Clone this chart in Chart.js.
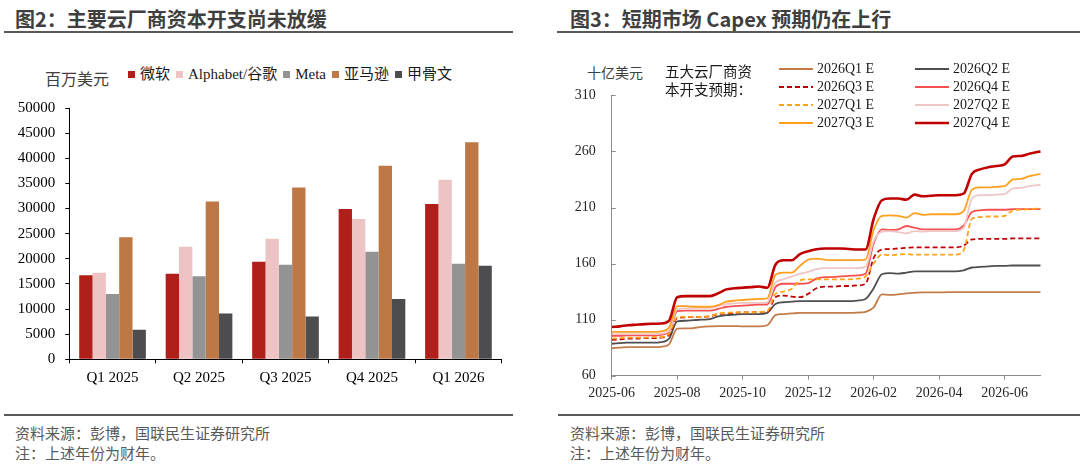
<!DOCTYPE html>
<html lang="zh">
<head>
<meta charset="UTF-8">
<title>云厂商资本开支</title>
<script src="https://cdn.jsdelivr.net/npm/chart.js"></script>
<style>
    body { margin: 0; background: #fff; font-family: "Noto Sans CJK SC", sans-serif; }
    #page { position: relative; width: 1080px; height: 471px; overflow: hidden; }
    .title { position: absolute; top: 6px; font-size: 20px; font-weight: bold; color: #3f3f3f; line-height: 26px; white-space: nowrap; }
    .rule { position: absolute; height: 2px; background: #595959; }
    .foot { position: absolute; font-size: 15px; color: #595959; line-height: 20px; white-space: nowrap; }
    .unit { position: absolute; font-size: 16px; color: #404040; line-height: 20px; white-space: nowrap; }
    canvas { position: absolute; }
    .serif { font-family: "Liberation Serif", "Noto Sans CJK SC", serif; }

    #barLegend { position: absolute; left: 128px; top: 64px; display: flex; align-items: center; font-size: 15px; line-height: 20px; color: #1a1a1a; white-space: nowrap; }
    #barLegend .sw { width: 7px; height: 7px; margin-right: 5px; }
    #barLegend .txt { margin-right: 6px; }

    #lineLegend { position: absolute; left: 779px; top: 59.5px; display: grid; grid-template-columns: 136px 136px; grid-auto-rows: 18.1px; font-size: 14px; color: #1a1a1a; z-index: 2; }
    #lineLegend .item { display: flex; align-items: center; white-space: nowrap; }
    #lineLegend svg { margin-right: 4px; }
</style>
</head>
<body>
<div id="page">
    <div class="title" style="left:15px">图2：主要云厂商资本开支尚未放缓</div>
    <div class="rule" style="left:4px; width:509px; top:31px"></div>
    <div class="title" style="left:570px">图3：短期市场 Capex 预期仍在上行</div>
    <div class="rule" style="left:557px; width:523px; top:31px"></div>

    <div class="unit" style="left:45px; top:68px">百万美元</div>
    <div id="barLegend" class="serif"></div>
    <canvas id="barChart" width="540" height="305" style="left:0; top:89px"></canvas>

    <div class="unit" style="left:587px; top:62px; font-size:14px">十亿美元</div>
    <div class="unit" style="left:665px; top:62px; font-size:14.5px; line-height:18.3px; color:#1a1a1a; z-index:2">五大云厂商资<br>本开支预期：</div>
    <div id="lineLegend" class="serif"></div>
    <canvas id="lineChart" width="540" height="340" style="left:540px; top:71px"></canvas>

    <div class="rule" style="left:4px; width:509px; top:414px"></div>
    <div class="rule" style="left:558px; width:522px; top:414px"></div>
    <div class="foot" style="left:15px; top:423px">资料来源：彭博，国联民生证券研究所</div>
    <div class="foot" style="left:15px; top:443px">注：上述年份为财年。</div>
    <div class="foot" style="left:570px; top:423px">资料来源：彭博，国联民生证券研究所</div>
    <div class="foot" style="left:570px; top:443px">注：上述年份为财年。</div>
</div>

<script>
    // 图2 数据（百万美元）
    const quarters = ['Q1 2025', 'Q2 2025', 'Q3 2025', 'Q4 2025', 'Q1 2026'];
    const barNames = ['微软', 'Alphabet/谷歌', 'Meta', '亚马逊', '甲骨文'];
    const capexMicrosoft = [16700, 17000, 19400, 29900, 30900];
    const capexAlphabet = [17200, 22400, 24000, 27900, 35700];
    const capexMeta = [13000, 16500, 18800, 21400, 19000];
    const capexAmazon = [24300, 31400, 34200, 38500, 43200];
    const capexOracle = [5900, 9100, 8500, 12000, 18600];

    // 图3 数据（十亿美元），横轴为自 2025-06 起的月份
    const monthPos = [
        0, 0.25, 0.5, 0.75, 1, 1.25, 1.5, 1.75,
        2, 2.25, 2.5, 2.75, 3, 3.25, 3.5, 3.75,
        4, 4.25, 4.5, 4.75, 5, 5.25, 5.5, 5.75,
        6, 6.25, 6.5, 6.75, 7, 7.25, 7.5, 7.75,
        8, 8.25, 8.5, 8.75, 9, 9.25, 9.5, 9.75,
        10, 10.25, 10.5, 10.75, 11, 11.25, 11.5, 11.75,
        12, 12.25, 12.5, 12.75, 13, 13.1
    ];
    const axisMonths = ['2025-06', '2025-08', '2025-10', '2025-12', '2026-02', '2026-04', '2026-06'];
    const lineNames = ['2026Q1 E', '2026Q2 E', '2026Q3 E', '2026Q4 E', '2027Q1 E', '2027Q2 E', '2027Q3 E', '2027Q4 E'];

    const est26Q1 = [
        84.5, 85, 85.5, 85.5, 85.5, 85.5, 85.8, 88,
        102, 102.2, 102.5, 103.5, 104, 104.3, 104.3, 104.3,
        104, 104, 104, 105, 114, 115, 115.5, 116,
        116, 116, 116, 116, 116, 116, 116.3, 117,
        121, 132.5, 132, 132.5, 133.5, 134, 134.3, 134.3,
        134.3, 134.5, 134.5, 134.5, 134.5, 134.5, 134.5, 134.5,
        134.5, 134.5, 134.5, 134.5, 134.5, 134.5
    ];
    const est26Q2 = [
        88.5, 89, 89.5, 89.5, 89.5, 89.5, 90, 93,
        108.5, 109, 109.5, 110, 110.5, 113, 114, 114.5,
        115, 115, 115, 116, 124, 125.5, 126, 126.5,
        126.5, 126.5, 126.5, 126.5, 126.5, 126.5, 127, 128.5,
        138, 150.5, 151.5, 151, 152, 153, 153, 153,
        153, 153, 153, 154, 156.5, 157, 157.5, 158,
        158, 158.3, 158.3, 158.3, 158.3, 158.3
    ];
    const est26Q3 = [
        92, 92.5, 93, 93, 93.5, 93.5, 94, 96.5,
        111.5, 112, 112.5, 112.5, 113, 115, 115.5, 116,
        116.5, 116.5, 117, 117, 130, 131.5, 130.5, 130,
        133, 138, 139.5, 139.5, 140, 140, 140.5, 142,
        165, 172.5, 173, 173.5, 174, 174.5, 174.5, 174.5,
        174.5, 174.5, 174.5, 176, 181.5, 182, 182, 182,
        182, 182.5, 182.5, 182.5, 182.5, 182.5
    ];
    const est26Q4 = [
        95.5, 95.5, 96, 96, 96, 96, 96.5, 99,
        117.5, 118, 118, 118, 118, 119.5, 121.5, 122,
        122.5, 123, 123.5, 123.5, 139, 142, 142, 142,
        142.5, 146.5, 148, 148, 148.5, 149, 149.5, 151,
        178, 190.5, 190, 190.5, 193.5, 192, 190.5, 190.5,
        190.5, 190.5, 190.5, 194, 206, 207.5, 208, 208,
        208, 208.5, 208.5, 208.5, 208.5, 208.5
    ];
    const est27Q1 = [
        93, 93.5, 94, 94, 94, 94.5, 94.5, 97.5,
        112, 112.5, 112.5, 112.5, 113, 115.5, 116, 116.5,
        116.5, 116.5, 117, 117.5, 133, 135, 137.5, 145,
        146, 146, 146, 146, 146, 146, 146.5, 148.5,
        160, 168, 167.5, 168, 168.5, 168, 168, 168,
        168, 168, 168, 172, 200, 201.5, 202, 202,
        202.5, 207.5, 208, 208.5, 209, 209
    ];
    const est27Q2 = [
        97, 97, 97, 97, 97, 97, 97.5, 100,
        119.5, 120, 120.5, 120.5, 120.5, 122, 124, 124.5,
        125, 125, 125, 125.5, 143, 146, 148.5, 151,
        152.5, 155, 156, 156, 156, 156, 156, 157,
        180, 188.5, 189, 188, 187, 189, 188.5, 189,
        189, 189, 189, 192, 218, 221, 221, 221.5,
        222, 227, 227.5, 229, 230, 230
    ];
    const est27Q3 = [
        99, 99, 99, 99, 99, 99, 99.5, 103,
        122, 122, 121.5, 121.5, 121.5, 123, 126, 127,
        127.5, 128, 128.5, 129, 150, 152, 152, 158,
        163.5, 164.5, 163.5, 163, 163, 163, 163, 163.5,
        190, 202.5, 203, 202.5, 201, 205, 203.5, 204,
        204, 204, 204, 207, 226, 228, 228, 228.5,
        229, 235, 235.5, 238, 239.5, 240
    ];
    const est27Q4 = [
        103.5, 104, 105, 105.5, 106, 106.3, 106.5, 109,
        130, 131, 131, 131, 131, 133.5, 137, 138,
        138.5, 139, 139.5, 138.5, 159, 163, 163, 168.5,
        171, 172.8, 173.5, 173.5, 173.5, 173, 172.5, 172.5,
        200, 216.5, 218, 218, 217, 221.5, 220, 220.5,
        221, 221, 221, 222.5, 240, 244, 246, 247,
        248.5, 255.5, 256, 258, 259.5, 260
    ];

    Chart.defaults.font.family = '"Liberation Serif", "Noto Sans CJK SC", serif';
    Chart.defaults.animation = false;

    // ---------- 图2 柱状图 ----------
    const barColors = ['#b01f1a', '#edc3c3', '#939393', '#bd7845', '#4d4d4f'];
    const barSeries = [capexMicrosoft, capexAlphabet, capexMeta, capexAmazon, capexOracle];

    const barChart = new Chart(document.getElementById('barChart'), {
        type: 'bar',
        data: {
            labels: quarters,
            datasets: barSeries.map((vals, i) => ({
                label: barNames[i],
                data: vals,
                backgroundColor: barColors[i],
                borderWidth: 0,
                categoryPercentage: 0.771,
                barPercentage: 1.0
            }))
        },
        options: {
            responsive: false,
            devicePixelRatio: 1,
            // 顶部留白由 y 轴 ticks.padding + 半个标签高度决定
            layout: { padding: { top: 0, right: 38.3, bottom: 0, left: 0 } },
            plugins: { legend: { display: false }, tooltip: { enabled: false } },
            scales: {
                x: {
                    grid: { drawOnChartArea: false, tickLength: 4, color: '#000', offset: true },
                    border: { color: '#000' },
                    ticks: { color: '#000', font: { size: 15 }, padding: 6, maxRotation: 0 },
                    afterFit: s => { s.height = 34.7; }
                },
                y: {
                    min: 0,
                    max: 50000,
                    grid: { drawOnChartArea: false, tickLength: 4, color: '#000' },
                    border: { color: '#000' },
                    ticks: { stepSize: 5000, color: '#000', font: { size: 15 }, padding: 10, callback: v => String(v) },
                    afterFit: s => { s.width = 69.3; }
                }
            }
        }
    });

    const barLegend = document.getElementById('barLegend');
    barChart.data.datasets.forEach(ds => {
        const sw = document.createElement('span');
        sw.className = 'sw';
        sw.style.background = ds.backgroundColor;
        const txt = document.createElement('span');
        txt.className = 'txt';
        txt.textContent = ds.label;
        barLegend.appendChild(sw);
        barLegend.appendChild(txt);
    });

    // ---------- 图3 折线图 ----------
    const lineSeries = [est26Q1, est26Q2, est26Q3, est26Q4, est27Q1, est27Q2, est27Q3, est27Q4];
    const lineColors = ['#c47c4a', '#4f4f4f', '#c00000', '#f65050', '#ffa41c', '#efc6c6', '#ffa020', '#c00000'];
    const lineWidths = [1.8, 1.8, 1.8, 1.8, 1.8, 1.8, 1.8, 2.6];
    const lineDashes = [[], [], [5, 3], [], [5, 3], [], [], []];
    const axisGray = '#8c8c8c';

    // y 轴刻度线朝内
    const innerTicks = {
        id: 'innerTicks',
        afterDraw(chart) {
            const ys = chart.scales.y;
            const ctx = chart.ctx;
            ctx.save();
            ctx.strokeStyle = axisGray;
            ctx.lineWidth = 1;
            ys.ticks.forEach(t => {
                const py = Math.round(ys.getPixelForValue(t.value)) + 0.5;
                ctx.beginPath();
                ctx.moveTo(ys.right, py);
                ctx.lineTo(ys.right + 4, py);
                ctx.stroke();
            });
            ctx.restore();
        }
    };

    const lineChart = new Chart(document.getElementById('lineChart'), {
        type: 'line',
        data: {
            datasets: lineSeries.map((vals, i) => ({
                label: lineNames[i],
                data: monthPos.map((m, j) => ({ x: m, y: vals[j] })),
                borderColor: lineColors[i],
                borderWidth: lineWidths[i],
                borderDash: lineDashes[i],
                pointRadius: 0,
                fill: false,
                cubicInterpolationMode: 'monotone',
                order: lineSeries.length - i
            }))
        },
        options: {
            responsive: false,
            devicePixelRatio: 1,
            layout: { padding: { top: 0, right: 39.3, bottom: 0, left: 0 } },
            plugins: { legend: { display: false }, tooltip: { enabled: false } },
            scales: {
                x: {
                    type: 'linear',
                    min: 0,
                    max: 13.1,
                    afterBuildTicks: s => { s.ticks = axisMonths.map((_, i) => ({ value: i * 2 })); },
                    grid: { drawOnChartArea: false, tickLength: 4, color: axisGray },
                    border: { color: axisGray },
                    ticks: { color: '#262626', font: { size: 14 }, padding: 5, maxRotation: 0, autoSkip: false,
                             callback: (v, i) => axisMonths[i] },
                    afterFit: s => { s.height = 35.3; }
                },
                y: {
                    min: 60,
                    max: 310,
                    grid: { drawOnChartArea: false, drawTicks: false, color: axisGray },
                    border: { color: axisGray },
                    ticks: { stepSize: 50, color: '#262626', font: { size: 14 }, padding: 16 },
                    afterFit: s => { s.width = 71.7; }
                }
            }
        },
        plugins: [innerTicks]
    });

    const lineLegend = document.getElementById('lineLegend');
    lineChart.data.datasets.forEach(ds => {
        const item = document.createElement('div');
        item.className = 'item';
        const svgNS = 'http://www.w3.org/2000/svg';
        const svg = document.createElementNS(svgNS, 'svg');
        svg.setAttribute('width', '34');
        svg.setAttribute('height', '6');
        const ln = document.createElementNS(svgNS, 'line');
        ln.setAttribute('x1', '0'); ln.setAttribute('y1', '3');
        ln.setAttribute('x2', '34'); ln.setAttribute('y2', '3');
        ln.setAttribute('stroke', ds.borderColor);
        ln.setAttribute('stroke-width', ds.borderWidth);
        if (ds.borderDash.length) ln.setAttribute('stroke-dasharray', ds.borderDash.join(' '));
        svg.appendChild(ln);
        const txt = document.createElement('span');
        txt.textContent = ds.label;
        item.appendChild(svg);
        item.appendChild(txt);
        lineLegend.appendChild(item);
    });
</script>
</body>
</html>
